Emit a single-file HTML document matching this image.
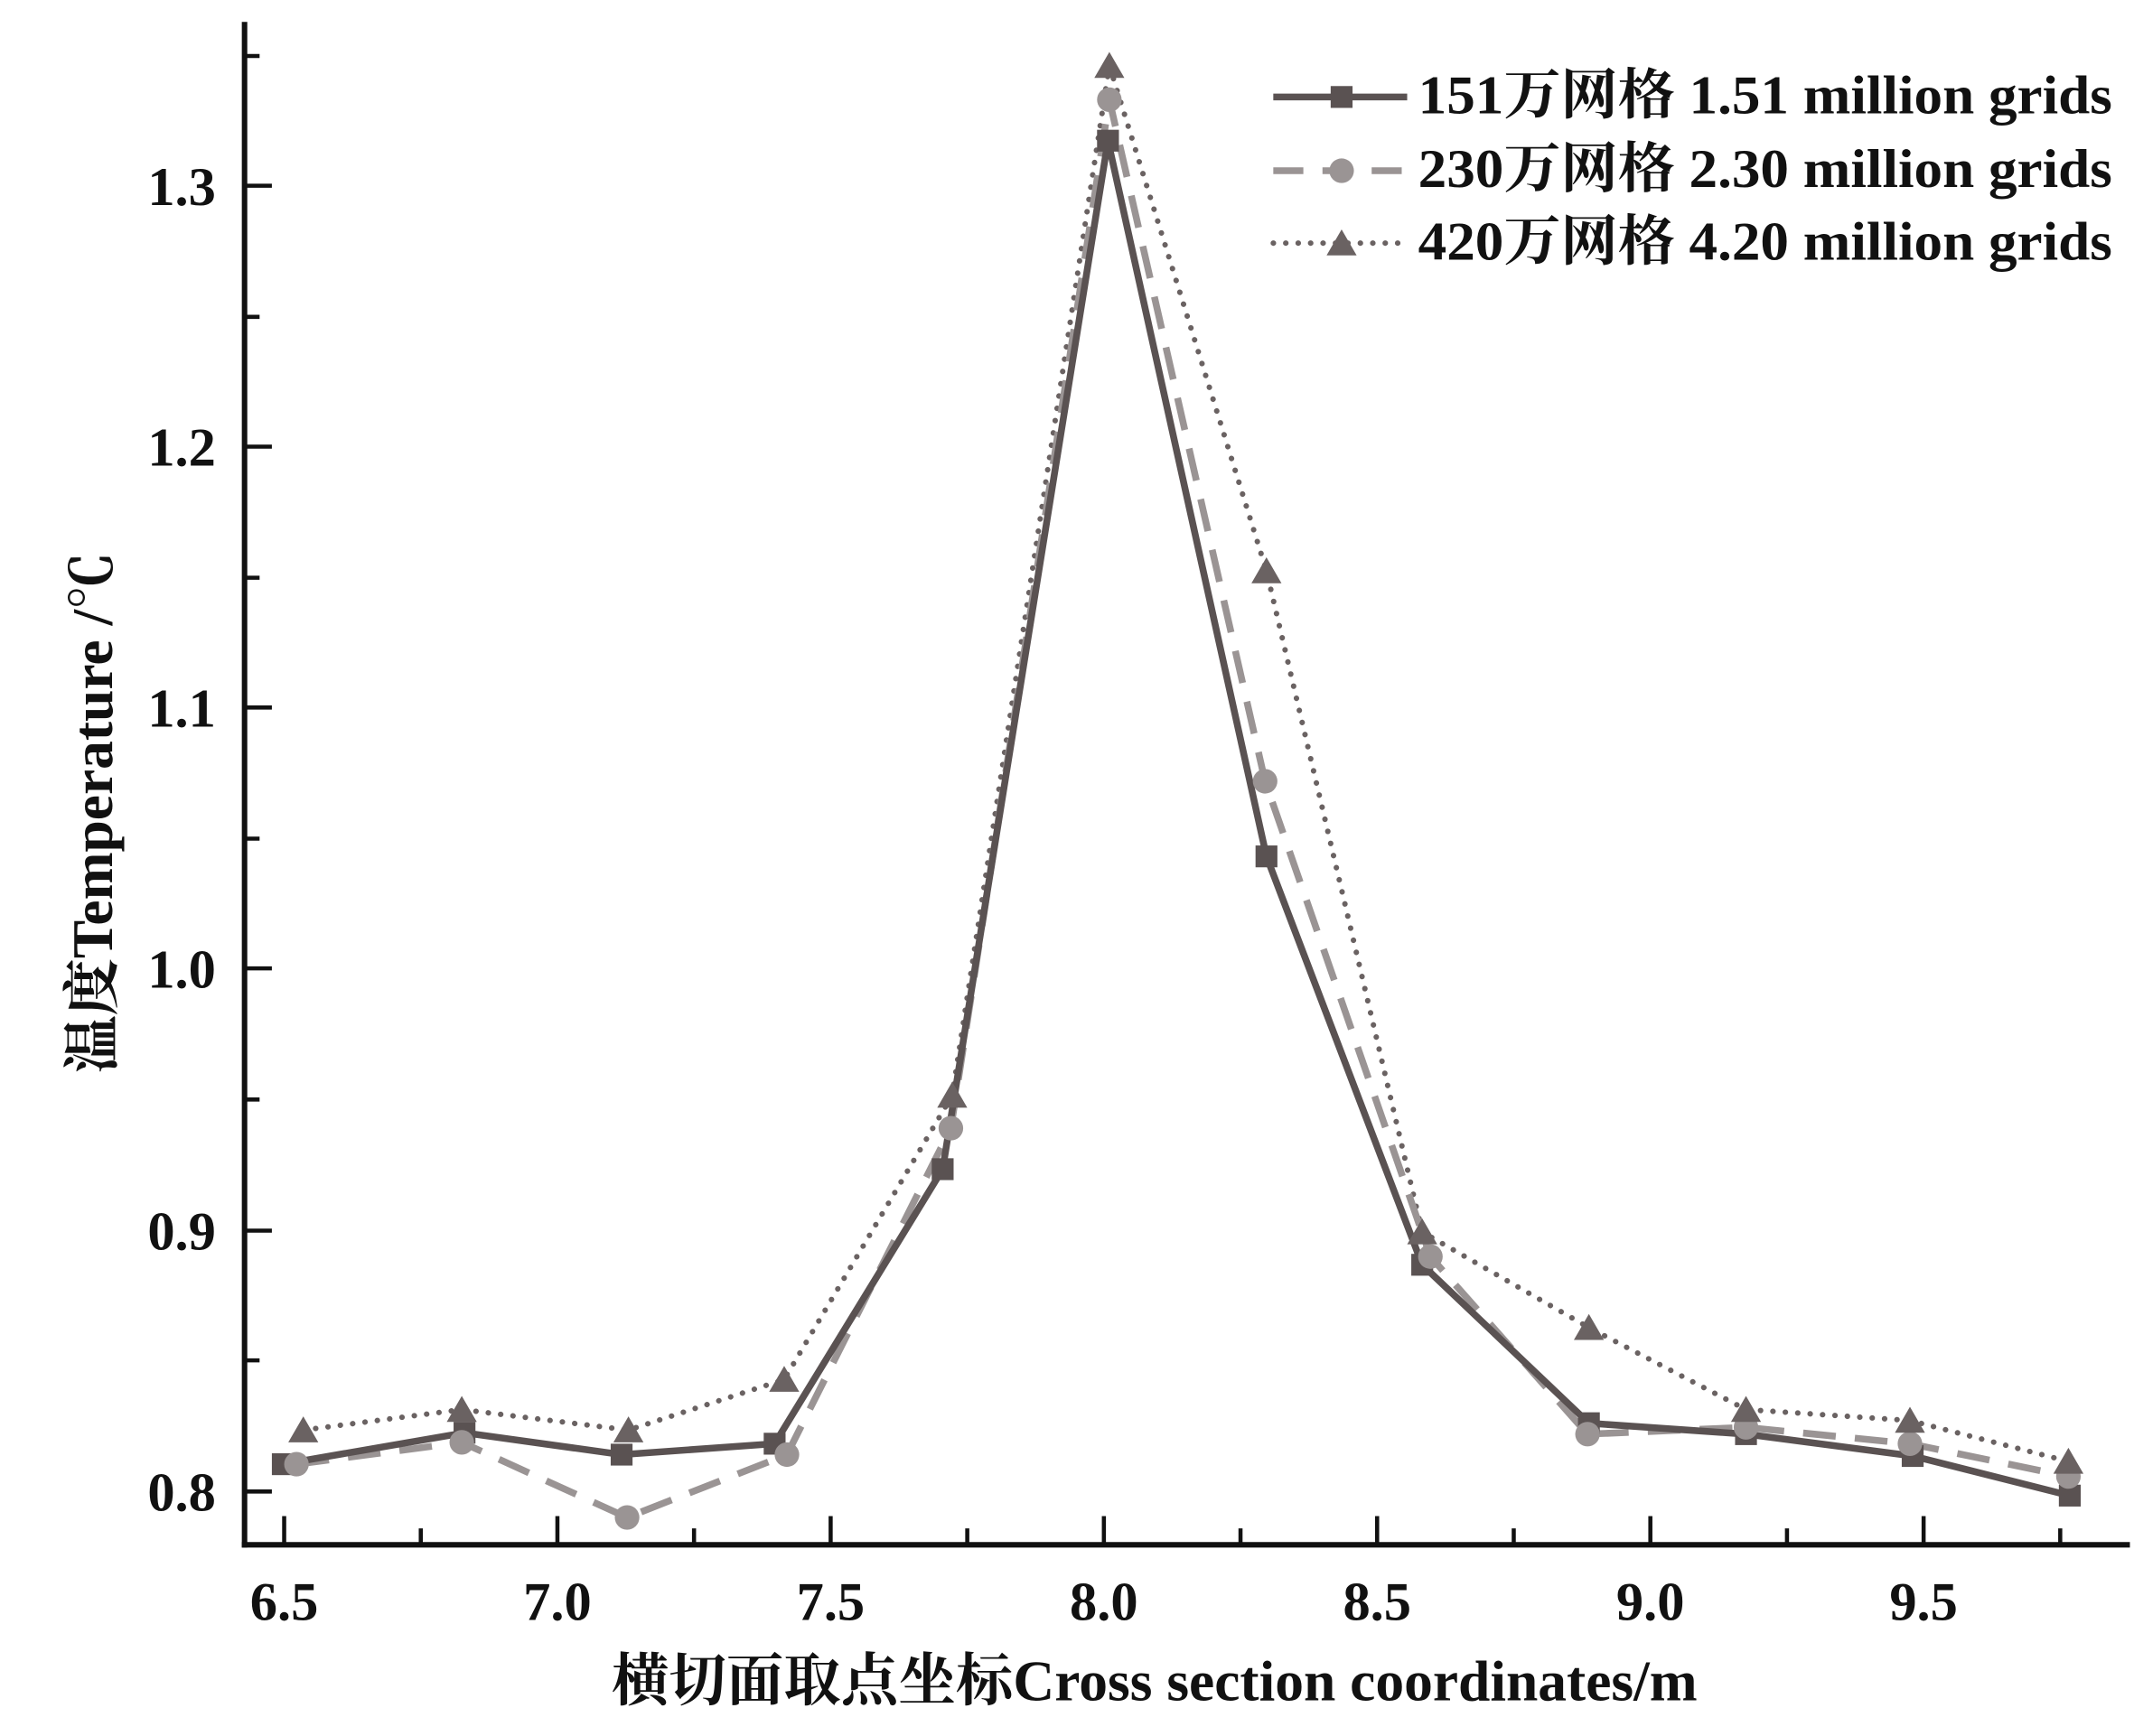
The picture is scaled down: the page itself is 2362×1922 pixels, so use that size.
<!DOCTYPE html>
<html><head><meta charset="utf-8"><style>html,body{margin:0;padding:0;background:#fff}svg{display:block}</style></head><body>
<svg width="2362" height="1922" viewBox="0 0 1562 1271" preserveAspectRatio="none" xmlns="http://www.w3.org/2000/svg" font-family="'Liberation Serif','Noto Serif CJK SC',serif" font-weight="bold">
<g stroke="#111" stroke-width="4" fill="none">
<line x1="179" y1="16" x2="179" y2="1133"/>
<line x1="177" y1="1131" x2="1559" y2="1131"/>
<g stroke-width="3">
<line x1="179" y1="1092" x2="199" y2="1092"/><line x1="179" y1="901" x2="199" y2="901"/><line x1="179" y1="709" x2="199" y2="709"/><line x1="179" y1="518" x2="199" y2="518"/><line x1="179" y1="327" x2="199" y2="327"/><line x1="179" y1="136" x2="199" y2="136"/>
<line x1="179" y1="996" x2="190" y2="996"/><line x1="179" y1="805" x2="190" y2="805"/><line x1="179" y1="614" x2="190" y2="614"/><line x1="179" y1="423" x2="190" y2="423"/><line x1="179" y1="232" x2="190" y2="232"/><line x1="179" y1="41" x2="190" y2="41"/>
<line x1="208" y1="1131" x2="208" y2="1110"/><line x1="408" y1="1131" x2="408" y2="1110"/><line x1="608" y1="1131" x2="608" y2="1110"/><line x1="808" y1="1131" x2="808" y2="1110"/><line x1="1008" y1="1131" x2="1008" y2="1110"/><line x1="1208" y1="1131" x2="1208" y2="1110"/><line x1="1408" y1="1131" x2="1408" y2="1110"/>
<line x1="308" y1="1131" x2="308" y2="1119"/><line x1="508" y1="1131" x2="508" y2="1119"/><line x1="708" y1="1131" x2="708" y2="1119"/><line x1="908" y1="1131" x2="908" y2="1119"/><line x1="1108" y1="1131" x2="1108" y2="1119"/><line x1="1308" y1="1131" x2="1308" y2="1119"/><line x1="1508" y1="1131" x2="1508" y2="1119"/>
</g></g>
<g font-size="40" fill="#111" text-anchor="end">
<text x="158" y="1106">0.8</text><text x="158" y="915">0.9</text><text x="158" y="723">1.0</text><text x="158" y="532">1.1</text><text x="158" y="341">1.2</text><text x="158" y="150">1.3</text>
</g>
<g font-size="40" fill="#111" text-anchor="middle">
<text x="208" y="1186">6.5</text><text x="408" y="1186">7.0</text><text x="608" y="1186">7.5</text><text x="808" y="1186">8.0</text><text x="1008" y="1186">8.5</text><text x="1208" y="1186">9.0</text><text x="1408" y="1186">9.5</text>
<text x="845" y="1245" font-size="42">横切面取点坐标Cross section coordinates/m</text>
<text transform="translate(82,595) rotate(-90)" font-size="42">温度Temperature /℃</text>
</g>
<polyline fill="none" stroke="#6a6262" stroke-width="4" stroke-dasharray="0.1,9" stroke-linecap="round" points="222,1047 338,1032 460,1047 574,1010 697,802 812,48 927,418 1041,902 1163,972 1278,1032 1398,1040 1514,1070"/>
<polyline fill="none" stroke="#9a9494" stroke-width="5" stroke-dasharray="24,14" points="217,1072 338,1056 459,1111 576,1065 696,826 812,73 926,572 1047,920 1162,1050 1278,1045 1398,1057 1514,1081"/>
<polyline fill="none" stroke="#5a5252" stroke-width="5" points="207,1072 340,1049 455,1065 567,1057 690,856 811,103 927,627 1041,926 1163,1042 1278,1050 1400,1066 1515,1095"/>
<g fill="#5a5252">
<rect x="199" y="1064" width="16" height="16"/><rect x="332" y="1041" width="16" height="16"/><rect x="447" y="1057" width="16" height="16"/><rect x="559" y="1049" width="16" height="16"/><rect x="682" y="848" width="16" height="16"/><rect x="803" y="95" width="16" height="16"/><rect x="919" y="619" width="16" height="16"/><rect x="1033" y="918" width="16" height="16"/><rect x="1155" y="1034" width="16" height="16"/><rect x="1270" y="1042" width="16" height="16"/><rect x="1392" y="1058" width="16" height="16"/><rect x="1507" y="1087" width="16" height="16"/>
</g>
<g fill="#9a9494">
<circle cx="217" cy="1072" r="9"/><circle cx="338" cy="1056" r="9"/><circle cx="459" cy="1111" r="9"/><circle cx="576" cy="1065" r="9"/><circle cx="696" cy="826" r="9"/><circle cx="812" cy="73" r="9"/><circle cx="926" cy="572" r="9"/><circle cx="1047" cy="920" r="9"/><circle cx="1162" cy="1050" r="9"/><circle cx="1278" cy="1045" r="9"/><circle cx="1398" cy="1057" r="9"/><circle cx="1514" cy="1081" r="9"/>
</g>
<g fill="#6a6262">
<path d="M222,1037 l-11,19 h22z M338,1022 l-11,19 h22z M460,1037 l-11,19 h22z M574,1000 l-11,19 h22z M697,792 l-11,19 h22z M812,38 l-11,19 h22z M927,408 l-11,19 h22z M1041,892 l-11,19 h22z M1163,962 l-11,19 h22z M1278,1022 l-11,19 h22z M1398,1030 l-11,19 h22z M1514,1060 l-11,19 h22z"/>
</g>
<g>
<line x1="932" y1="71" x2="1030" y2="71" stroke="#5a5252" stroke-width="5"/><rect x="974" y="63" width="16" height="16" fill="#5a5252"/>
<line x1="932" y1="125" x2="1030" y2="125" stroke="#9a9494" stroke-width="5" stroke-dasharray="22,14"/><circle cx="982" cy="125" r="9" fill="#9a9494"/>
<line x1="932" y1="178" x2="1030" y2="178" stroke="#6a6262" stroke-width="4" stroke-dasharray="0.1,9" stroke-linecap="round"/><path d="M982,168 l-11,19 h22z" fill="#6a6262"/>
</g>
<g font-size="40" fill="#111">
<text x="1038" y="83" textLength="508" lengthAdjust="spacingAndGlyphs">151万网格 1.51 million grids</text>
<text x="1038" y="137" textLength="508" lengthAdjust="spacingAndGlyphs">230万网格 2.30 million grids</text>
<text x="1038" y="190" textLength="508" lengthAdjust="spacingAndGlyphs">420万网格 4.20 million grids</text>
</g>
</svg>
</body></html>
